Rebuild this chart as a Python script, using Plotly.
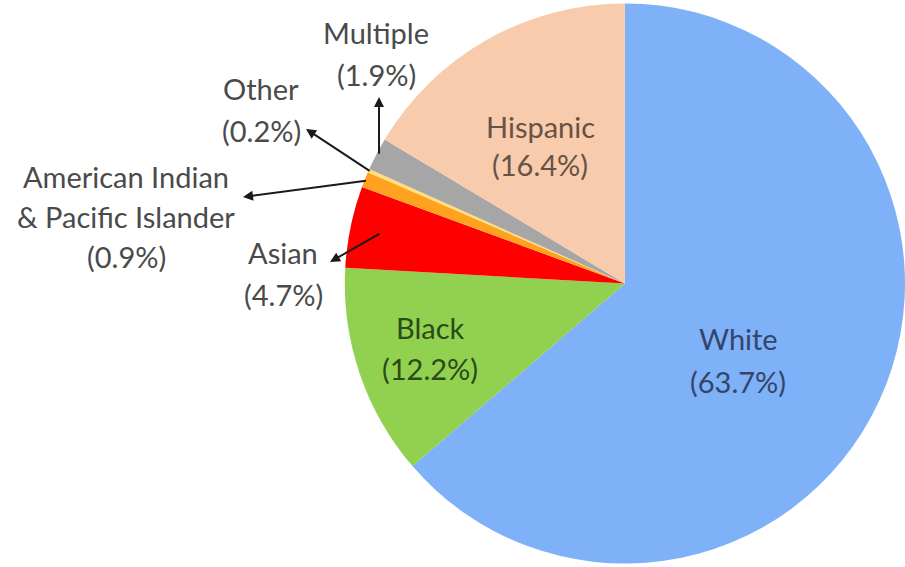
import math
import plotly.graph_objects as go

W, H = 905, 567

# Population share by race / ethnicity (percent), clockwise from 12 o'clock
groups = ["White", "Black", "Asian", "American Indian\n& Pacific Islander",
          "Other", "Multiple", "Hispanic"]
shares = [63.7, 12.2, 4.7, 0.9, 0.2, 1.9, 16.4]
colors = ["#7EB1F7", "#92D050", "#FF0000", "#FFA21F", "#FFE07A", "#A6A6A6", "#F8CBAD"]

# Label placement (pixel centre of first line) and text colour per group
label_pos = [(738, 338), (430, 327), (283, 252), (126, 176),
             (261, 89), (376, 33), (540, 126)]
label_color = ["#33456A", "#2C4A18", "#4A4A4A", "#4A4A4A",
               "#4A4A4A", "#4A4A4A", "#675246"]
line_gap = [43, 41, 42, 40, 41, 41, 39]

# Leader arrows for the thin slices: arrowhead position and radial fraction of tail
arrow_head = {2: (330, 262), 3: (243, 197), 4: (306, 129), 5: (None, 97)}
arrow_tail_r = {2: 0.89, 3: 0.99, 4: 0.99, 5: 0.99}

# Pie geometry (pixels)
dom_x = [0.381, 1.0]
dom_y = [0.0, 1.0]
cx = (dom_x[0] + dom_x[1]) / 2 * W
cy = H - (dom_y[0] + dom_y[1]) / 2 * H
R = min((dom_x[1] - dom_x[0]) * W, (dom_y[1] - dom_y[0]) * H) / 2

fig = go.Figure(go.Pie(
    labels=groups,
    values=shares,
    sort=False,
    direction="clockwise",
    rotation=0,
    textinfo="none",
    hoverinfo="label+percent",
    marker=dict(colors=colors, line=dict(width=0)),
    domain=dict(x=dom_x, y=dom_y),
    showlegend=False,
))

FONT = "Lato"
FS = 29


def px(x, y):
    return x / W, 1 - y / H


annotations = []
total = sum(shares)
for i, (g, v) in enumerate(zip(groups, shares)):
    lines = g.split("\n") + [f"({v:.1f}%)"]
    x0, y0 = label_pos[i]
    for k, t in enumerate(lines):
        ax_, ay_ = px(x0, y0 + k * line_gap[i])
        annotations.append(dict(
            x=ax_, y=ay_, xref="paper", yref="paper", text=t,
            showarrow=False, xanchor="center", yanchor="middle",
            font=dict(family=FONT, size=FS, color=label_color[i]),
        ))

# Arrows from the slice mid-angle out to the labels
# (a head x of None means a vertical arrow straight up from the slice)
cum = 0.0
for i, v in enumerate(shares):
    mid = (cum + v / 2) / total * 2 * math.pi
    cum += v
    if i not in arrow_head:
        continue
    r = R * arrow_tail_r[i]
    tx = cx + r * math.sin(mid)
    ty = cy - r * math.cos(mid)
    hx, hy = arrow_head[i]
    if hx is None:
        hx = tx
    x_, y_ = px(hx, hy)
    annotations.append(dict(
        x=x_, y=y_, xref="paper", yref="paper", text="",
        showarrow=True, arrowhead=2, arrowsize=1.0, arrowwidth=2,
        arrowcolor="#1A1A1A", axref="pixel", ayref="pixel",
        ax=tx - hx, ay=ty - hy, standoff=0, startstandoff=0,
    ))

fig.update_layout(
    width=W, height=H,
    margin=dict(l=0, r=0, t=0, b=0),
    paper_bgcolor="white", plot_bgcolor="white",
    annotations=annotations,
)

fig.write_html("out.html")
